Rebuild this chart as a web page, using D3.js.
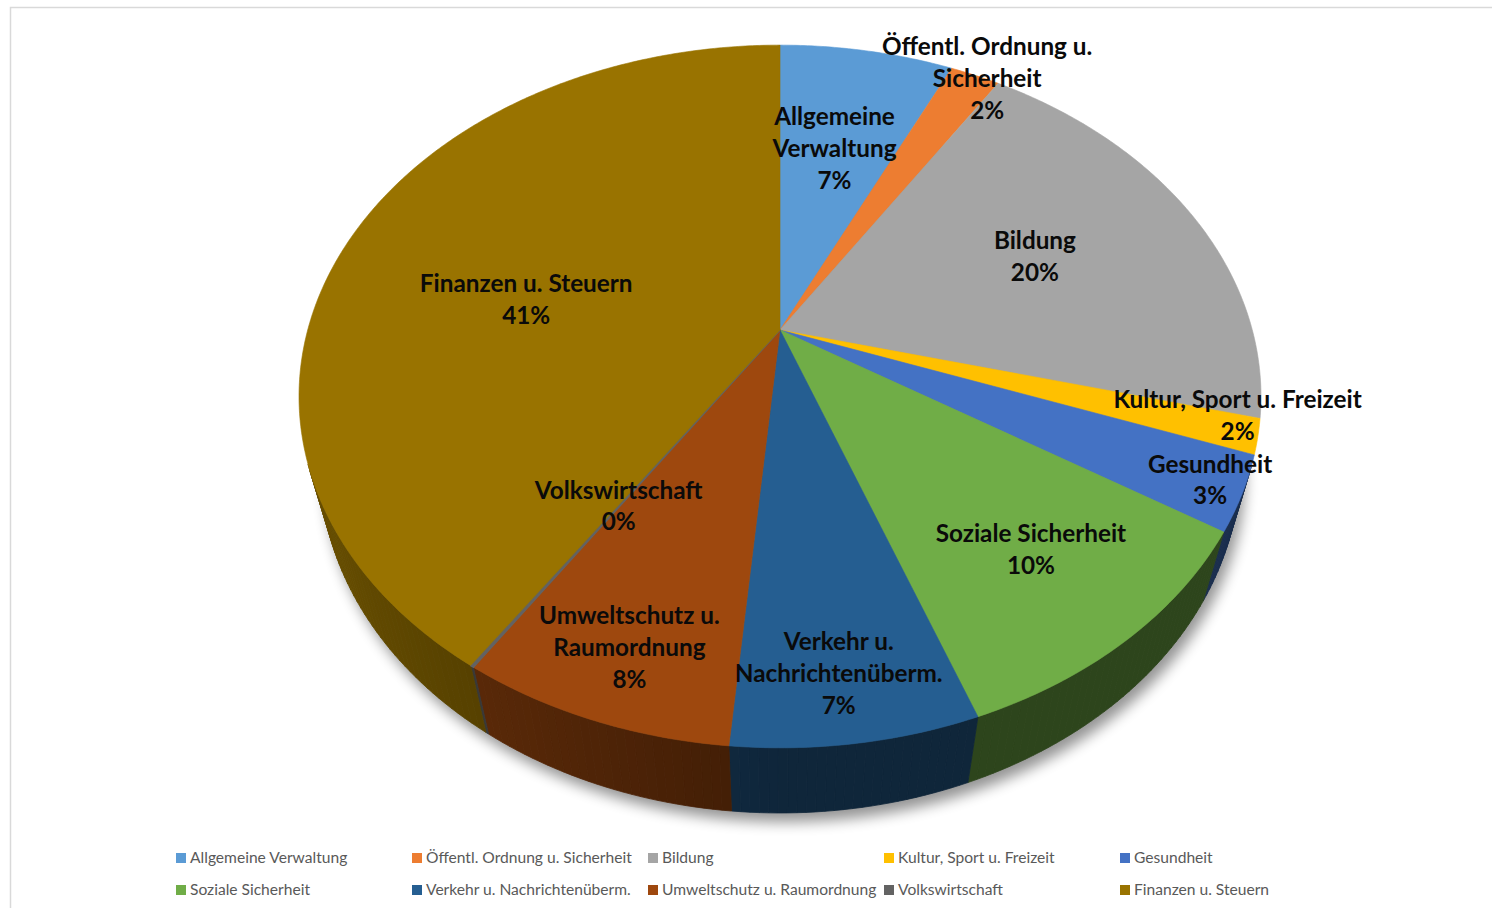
<!DOCTYPE html>
<html>
<head>
<meta charset="utf-8">
<script src="https://cdn.jsdelivr.net/npm/d3@7"></script>
<style>
  body { margin: 0; background: #fff; }
  svg { display: block; }
</style>
</head>
<body>
<svg id="chart" width="1492" height="908"></svg>
<script>
// ---- data ----
const categories = [
    "Allgemeine Verwaltung", "Öffentl. Ordnung u. Sicherheit", "Bildung",
    "Kultur, Sport u. Freizeit", "Gesundheit", "Soziale Sicherheit",
    "Verkehr u. Nachrichtenüberm.", "Umweltschutz u. Raumordnung",
    "Volkswirtschaft", "Finanzen u. Steuern"
];
const shares = [7.0, 2.0, 20.0, 1.6, 3.4, 10.4, 7.0, 7.8, 0.1, 40.7];
const colors = [
    "#5b9bd5", "#ed7d31", "#a5a5a5", "#ffc000", "#4472c4",
    "#70ad47", "#255e91", "#9e480e", "#636363", "#997300"
];
// how the data labels wrap inside the chart
const labelLines = [
    ["Allgemeine", "Verwaltung"], ["Öffentl. Ordnung u.", "Sicherheit"], ["Bildung"],
    ["Kultur, Sport u. Freizeit"], ["Gesundheit"], ["Soziale Sicherheit"],
    ["Verkehr u.", "Nachrichtenüberm."], ["Umweltschutz u.", "Raumordnung"],
    ["Volkswirtschaft"], ["Finanzen u. Steuern"]
];

// ---- layout (best-fit label placement, like the office chart) ----
const labelRadius = [0.61, 1.0, 0.6, 0.96, 0.94, 0.75, 0.86, 0.84, 0.56, 0.6];
const labelNudge = [[-2, 0], [12, 3], [2, -2], [0, -17], [-2, -3], [1, -3], [-5, -1], [2, 1], [-2, 2], [9, 26]];

// perspective camera for the tilted pie
const cam = {
    cx: 780, cy: 330, f: 1739, dist: 3.682,
    sa: 0.7173, ca: 0.6966, depth: 0.2248
};

function proj(theta, r, y) {
    const X = r * Math.sin(theta), Z = r * Math.cos(theta);
    const xc = X;
    const yc = y * cam.ca + Z * cam.sa;
    const zc = -y * cam.sa + Z * cam.ca + cam.dist;
    return [cam.cx + cam.f * xc / zc, cam.cy - cam.f * yc / zc];
}

const svg = d3.select("#chart");

// chart area frame
svg.append("rect")
    .attr("x", 10.5).attr("y", 7.5)
    .attr("width", 1600).attr("height", 1000)
    .attr("fill", "#fff")
    .attr("stroke", "#d9d9d9")
    .attr("stroke-width", 1.5);

const defs = svg.append("defs");
defs.append("filter").attr("id", "shadow")
    .attr("x", "-20%").attr("y", "-20%").attr("width", "140%").attr("height", "140%")
    .append("feGaussianBlur").attr("stdDeviation", 7);

const total = d3.sum(shares);
const pie = d3.pie().sort(null).value(d => d)
    .startAngle(0).endAngle(2 * Math.PI);
const arcs = pie(shares);

const line = d3.line();
const step = Math.PI / 360;

function arcPoints(a0, a1, y) {
    const n = Math.max(2, Math.ceil((a1 - a0) / step));
    return d3.range(n + 1).map(i => proj(a0 + (a1 - a0) * i / n, 1, y));
}

const pieG = svg.append("g");

// soft shadow under the pie
pieG.append("path")
    .attr("d", line(arcPoints(0, 2 * Math.PI, -cam.depth)) + "Z")
    .attr("transform", "translate(5,9)")
    .attr("fill", "#000")
    .attr("opacity", 0.42)
    .attr("filter", "url(#shadow)");

// outer walls, only where they face the camera
const visLimit = -1 / (cam.dist * cam.ca);
function wallShade(theta) {
    const left = Math.max(0, -Math.sin(theta));
    return 0.4 + 0.3 * left;
}

const walls = [];
arcs.forEach((a, i) => {
    const n = Math.max(1, Math.ceil((a.endAngle - a.startAngle) / (step * 2)));
    for (let k = 0; k < n; k++) {
        const t0 = a.startAngle + (a.endAngle - a.startAngle) * k / n;
        const t1 = a.startAngle + (a.endAngle - a.startAngle) * (k + 1) / n;
        const tm = (t0 + t1) / 2;
        if (Math.cos(tm) >= visLimit + 0.02) continue;
        walls.push({ i, t0, t1, tm });
    }
});

pieG.selectAll("path.wall")
    .data(walls)
    .enter()
    .append("path")
    .attr("class", "wall")
    .attr("d", d => line([
        proj(d.t0, 1, 0), proj(d.t1, 1, 0),
        proj(d.t1, 1, -cam.depth), proj(d.t0, 1, -cam.depth)
    ]) + "Z")
    .attr("fill", d => d3.interpolateRgb("#000", colors[d.i])(wallShade(d.tm)))
    .attr("stroke", d => d3.interpolateRgb("#000", colors[d.i])(wallShade(d.tm)))
    .attr("stroke-width", 0.8);

// top faces
pieG.selectAll("path.top")
    .data(arcs)
    .enter()
    .append("path")
    .attr("class", "top")
    .attr("d", d => line([proj(0, 0, 0)].concat(arcPoints(d.startAngle, d.endAngle, 0))) + "Z")
    .attr("fill", (d, i) => colors[i])
    .attr("stroke", (d, i) => colors[i])
    .attr("stroke-width", (d, i) => shares[i] < 0.5 ? 1.5 : 0.6)
    .attr("stroke-linejoin", "round");

// data labels
const lh = 31.8;
const labelG = svg.append("g")
    .attr("font-family", "Lato, 'Open Sans', sans-serif")
    .attr("font-weight", "bold")
    .attr("font-size", 24.3)
    .attr("fill", "#0a0a0a")
    .attr("text-anchor", "middle");

arcs.forEach((a, i) => {
    const mid = (a.startAngle + a.endAngle) / 2;
    const p = proj(mid, labelRadius[i], 0);
    const x = p[0] + labelNudge[i][0];
    const y = p[1] + labelNudge[i][1];
    const lines = labelLines[i].concat([Math.round(shares[i] / total * 100) + "%"]);
    const top = y - (lines.length - 1) * lh / 2;
    const t = labelG.append("text");
    lines.forEach((s, k) => {
        t.append("tspan").attr("x", x).attr("y", top + k * lh).attr("dy", "0.35em").text(s);
    });
});

// legend
const legend = svg.append("g")
    .attr("font-family", "Lato, 'Open Sans', sans-serif")
    .attr("font-size", 15.6)
    .attr("fill", "#595959");

const legCols = 5, legX0 = 176, legDx = 236, legY0 = 858, legDy = 32;
const items = legend.selectAll("g.item")
    .data(categories)
    .enter()
    .append("g")
    .attr("class", "item")
    .attr("transform", (d, i) => `translate(${legX0 + (i % legCols) * legDx},${legY0 + Math.floor(i / legCols) * legDy})`);

items.append("rect")
    .attr("x", 0).attr("y", -5)
    .attr("width", 10).attr("height", 10)
    .attr("fill", (d, i) => colors[i]);

items.append("text")
    .attr("x", 14)
    .attr("dy", "0.35em")
    .text(d => d);
</script>
</body>
</html>
